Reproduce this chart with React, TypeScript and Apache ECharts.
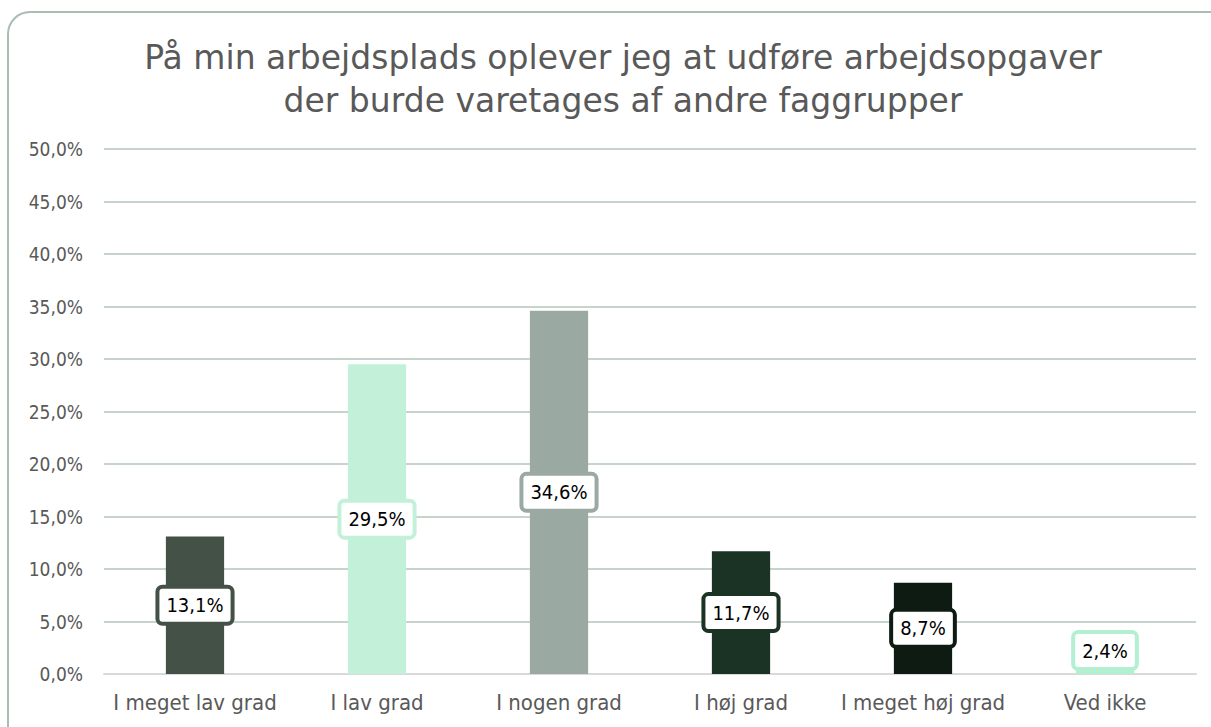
import React, { useEffect, useRef } from "react";
import * as echarts from "echarts";

const titleLines = [
  "På min arbejdsplads oplever jeg at udføre arbejdsopgaver",
  "der burde varetages af andre faggrupper",
];
const categories = [
  "I meget lav grad",
  "I lav grad",
  "I nogen grad",
  "I høj grad",
  "I meget høj grad",
  "Ved ikke",
];
const values = [13.1, 29.5, 34.6, 11.7, 8.7, 2.4];
const barColors = ["#435147", "#c3f0d9", "#9aaaa3", "#1a3324", "#0d1b12", "#b3f0d2"];
const yTicks = { min: 0, max: 50, interval: 5 };

const COND = "'DejaVu Sans Condensed', 'DejaVu Sans', sans-serif";
const REG = "'DejaVu Sans', sans-serif";

export default function App() {
  const ref = useRef<HTMLDivElement>(null);
  useEffect(() => {
    if (!ref.current) return;
    const chart = echarts.init(ref.current, null, { renderer: "svg" });
    const fmt = (v: number) => v.toFixed(1).replace(".", ",");
    const plotTop = 149;
    const plotBottom = 674;
    const pxPerUnit = (plotBottom - plotTop) / (yTicks.max - yTicks.min);
    const labelHalf = 18.5;
    chart.setOption({
      animation: false,
      backgroundColor: "#ffffff",
      title: {
        text: titleLines.join("\n"),
        left: 618,
        textAlign: "center",
        top: 31,
        textStyle: {
          fontFamily: REG,
          fontSize: 33,
          fontWeight: "normal",
          color: "#595959",
          lineHeight: 43,
        },
      },
      graphic: [
        {
          type: "rect",
          shape: { x: 8, y: 12, width: 1225, height: 740, r: 22 },
          style: { fill: "none", stroke: "#a9bdb1", lineWidth: 2 },
          silent: true,
        },
      ],
      grid: { left: 104, right: 15, top: plotTop, bottom: 727 - plotBottom, containLabel: false },
      xAxis: {
        type: "category",
        data: categories,
        axisLine: { show: true, lineStyle: { color: "#d9d9d9", width: 2 } },
        axisTick: { show: false },
        axisLabel: {
          interval: 0,
          fontFamily: COND,
          fontSize: 22,
          color: "#595959",
          margin: 17,
        },
      },
      yAxis: {
        type: "value",
        min: yTicks.min,
        max: yTicks.max,
        interval: yTicks.interval,
        axisLine: { show: false },
        axisTick: { show: false },
        splitLine: { lineStyle: { color: "#b3c6bb", width: 1.5 } },
        axisLabel: {
          fontFamily: COND,
          fontSize: 19,
          color: "#595959",
          margin: 21,
          formatter: (v: number) => fmt(v) + "%",
        },
      },
      series: [
        {
          type: "bar",
          barWidth: "32%",
          data: values.map((v, i) => {
            const half = (v * pxPerUnit) / 2;
            const shift = half < labelHalf + 5 ? labelHalf + 5 - half : 0;
            return {
              value: v,
              itemStyle: { color: barColors[i] },
              label: { borderColor: barColors[i], offset: [0, -shift] },
            };
          }),
          label: {
            show: true,
            position: "inside",
            formatter: (p: any) => fmt(p.value) + "%",
            fontFamily: COND,
            fontSize: 20,
            lineHeight: 20,
            color: "#000000",
            backgroundColor: "#ffffff",
            borderWidth: 4,
            borderRadius: 3,
            padding: [7, 7, 6, 7],
          },
        },
      ],
    });
    return () => chart.dispose();
  }, []);
  return (
    <div
      ref={ref}
      style={{ position: "fixed", left: 0, top: 0, width: 1211, height: 727 }}
    />
  );
}
